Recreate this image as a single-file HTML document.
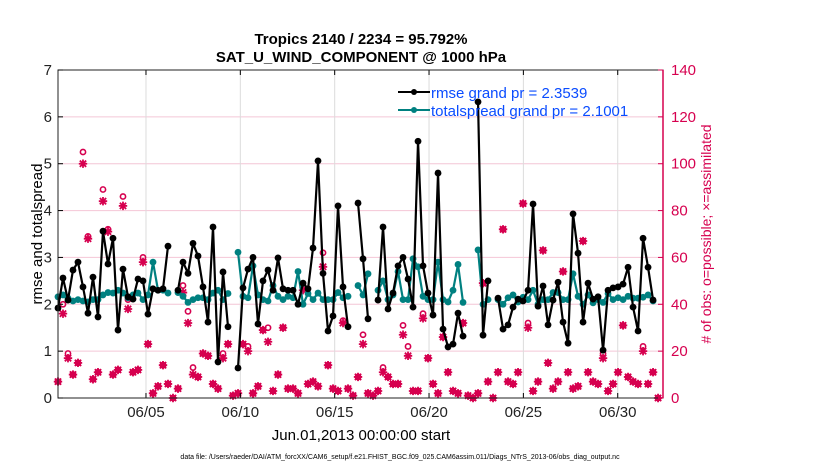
<!DOCTYPE html>
<html><head><meta charset="utf-8"><style>
body{margin:0;background:#fff;}
svg{display:block;font-family:"Liberation Sans",sans-serif;}
</style></head><body>
<svg id="chart" width="830" height="470" viewBox="0 0 830 470">
<rect width="830" height="470" fill="#fff"/>
<g id="grid"></g>
<g id="obs"></g>
<g id="lines"></g>
<g id="axes"></g>
<text x="361" y="44" text-anchor="middle" font-size="15" font-weight="bold">Tropics 2140 / 2234 = 95.792%</text>
<text x="361" y="62" text-anchor="middle" font-size="15" font-weight="bold">SAT_U_WIND_COMPONENT @ 1000 hPa</text>
<text transform="translate(42,234) rotate(-90)" text-anchor="middle" font-size="15">rmse and totalspread</text>
<text transform="translate(711,234) rotate(-90)" text-anchor="middle" font-size="14" fill="#d6004f"># of obs: o=possible; ×=assimilated</text>
<text x="361" y="440" text-anchor="middle" font-size="15">Jun.01,2013 00:00:00 start</text>
<text x="400" y="459" text-anchor="middle" font-size="7">data file: /Users/raeder/DAI/ATM_forcXX/CAM6_setup/f.e21.FHIST_BGC.f09_025.CAM6assim.011/Diags_NTrS_2013-06/obs_diag_output.nc</text>
<g>
<line x1="398" y1="92" x2="430" y2="92" stroke="#000" stroke-width="2"/>
<circle cx="414" cy="92" r="3" fill="#000"/>
<text x="431" y="98" font-size="15" fill="#0a4cff">rmse grand pr = 2.3539</text>
<line x1="398" y1="110" x2="430" y2="110" stroke="#008080" stroke-width="2"/>
<circle cx="414" cy="110" r="3" fill="#008080"/>
<text x="431" y="116" font-size="15" fill="#0a4cff">totalspread grand pr = 2.1001</text>
</g>
</svg>
<script>
const t0 = 0.337, dt = 0.265;
const rmse = [1.92,2.56,2.09,2.73,2.9,2.37,1.81,2.58,1.73,3.56,2.86,3.41,1.45,2.75,2.16,2.11,2.54,2.5,1.79,2.33,2.3,2.33,3.24,null,2.3,2.9,2.66,3.3,3.03,2.37,1.62,3.65,0.77,2.69,1.52,null,0.64,2.35,2.75,3.0,1.58,2.5,2.73,2.3,2.99,2.33,2.3,2.3,2.0,2.45,2.33,3.2,5.06,2.66,1.43,1.75,4.1,2.37,1.52,null,4.16,2.97,1.69,null,2.09,3.65,1.9,2.24,2.82,3.0,2.54,1.94,5.48,2.82,2.24,1.77,4.8,1.47,1.09,1.15,1.81,1.32,null,null,6.32,1.34,2.5,null,2.13,1.47,1.56,1.94,2.11,2.07,2.3,4.14,1.96,2.39,1.56,2.09,2.47,1.62,1.17,3.93,3.09,1.62,2.45,2.11,2.16,1.02,2.3,2.35,2.37,2.43,2.79,1.94,1.43,3.41,2.79,2.09,null];
const spread = [2.16,2.2,2.13,2.07,2.1,2.07,2.05,2.1,2.1,2.2,2.25,2.24,2.3,2.24,2.14,2.2,2.24,2.1,2.2,2.9,2.3,2.3,2.24,null,2.25,2.17,2.04,2.1,2.14,2.14,2.1,2.24,2.3,2.1,2.23,null,3.11,2.17,2.14,2.82,2.2,2.1,2.07,2.4,2.17,2.1,2.17,2.14,2.7,2.0,2.23,2.1,2.24,2.1,2.1,2.1,2.25,2.14,2.17,null,2.4,2.2,2.65,null,2.3,2.5,2.1,2.2,2.7,2.1,2.1,2.97,2.8,2.17,2.1,2.1,2.9,2.1,2.05,2.3,2.85,2.04,null,null,3.16,2.0,2.1,null,2.1,2.0,2.14,2.2,2.05,2.15,2.1,2.3,2.0,2.1,2.1,2.25,2.25,2.1,2.1,2.65,2.17,2.0,2.2,2.03,2.1,2.04,2.23,2.1,2.14,2.1,2.17,2.13,2.13,2.15,2.2,2.07,null];
const nAssim = [7,36,17,10,15,100,68,8,11,84,71,10,12,82,38,11,12,58,23,2,5,14,6,0,4,45,32,10,9,19,18,6,4,17,23,1,2,23,20,2,5,29,24,3,10,30,4,4,2,46,6,7,5,56,14,4,3,32,4,1,9,23,2,1,3,11,9,6,6,27,18,3,3,34,17,6,2,26,11,3,2,32,1,0,2,49,7,0,11,72,7,6,11,83,30,3,7,63,15,4,7,54,11,4,5,67,11,7,6,17,3,6,11,31,9,7,6,20,6,11,0];
const nPoss = [7,40,19,10,15,105,69,8,11,89,72,10,12,86,42,11,12,60,23,2,5,14,6,0,4,48,37,13,9,19,18,6,4,19,23,1,2,23,22,2,5,29,30,3,10,30,4,4,2,48,6,7,5,62,14,4,3,33,4,1,9,27,2,1,3,13,9,6,6,31,22,3,3,36,17,6,2,26,11,3,2,32,1,0,2,49,7,0,11,72,7,6,11,83,32,3,7,63,15,4,7,54,11,4,5,67,11,7,6,19,3,6,11,31,9,7,6,22,6,11,0];
const dayTicks = [5,10,15,20,25,30];
const dayLabels = ["06/05","06/10","06/15","06/20","06/25","06/30"];
const leftTicks = [0,1,2,3,4,5,6,7];
const rightTicks = [0,20,40,60,80,100,120,140];

const L=58,R=663,T=70,B=398;
const xDay = d => 70.5 + (d-1)*18.87;
const yL = v => B - v*(B-T)/7;
const yR = v => B - v*(B-T)/140;
const NS='http://www.w3.org/2000/svg';
function mk(tag, attrs, parent){const e=document.createElementNS(NS,tag);for(const k in attrs)e.setAttribute(k,attrs[k]);parent.appendChild(e);return e;}
const grid=document.getElementById('grid'), axes=document.getElementById('axes'), obs=document.getElementById('obs'), lines=document.getElementById('lines');
const CR='#d6004f';

for(const v of rightTicks){ if(v>0&&v<140){ const g=mk('line',{x1:L,x2:R,y1:yR(v),y2:yR(v),stroke:'#f4c6d6','stroke-width':1},grid);

}}
dayTicks.forEach((d,i)=>{const x=xDay(d);
const g=mk('line',{x1:x,x2:x,y1:T,y2:B,stroke:'#dcdcdc','stroke-width':1},grid);


mk('line',{x1:x,x2:x,y1:B,y2:B-5,stroke:'#000'},axes);
mk('line',{x1:x,x2:x,y1:T,y2:T+5,stroke:'#000'},axes);
const t=mk('text',{x:x,y:B+19,'text-anchor':'middle','font-size':15,fill:'#222'},axes);t.textContent=dayLabels[i];


});
const fr=mk('rect',{x:L,y:T,width:R-L,height:B-T,fill:'none',stroke:'#222','stroke-width':1},axes);


const ra=mk('line',{x1:R,x2:R,y1:T,y2:B,stroke:CR,'stroke-width':1.5},axes);


for(const v of leftTicks){const y=yL(v);
mk('line',{x1:L,x2:L+5,y1:y,y2:y,stroke:'#000'},axes);
const t=mk('text',{x:L-6,y:y+5,'text-anchor':'end','font-size':15,fill:'#222'},axes);t.textContent=v;

}
for(const v of rightTicks){const y=yR(v);
mk('line',{x1:R,x2:R-5,y1:y,y2:y,stroke:CR},axes);
const t=mk('text',{x:R+8,y:y+5,'font-size':15,fill:CR},axes);t.textContent=v;

}

// obs markers
nPoss.forEach((v,i)=>{const x=xDay(t0+i*dt);
const c=mk('circle',{cx:x,cy:yR(v),r:2.6,fill:'none',stroke:CR,'stroke-width':1.6},obs);

});
nAssim.forEach((v,i)=>{const x=xDay(t0+i*dt),y=yR(v),s=4.2;
const p=mk('path',{d:`M${x-s},${y}H${x+s}M${x},${y-s}V${y+s}M${x-s*0.75},${y-s*0.75}L${x+s*0.75},${y+s*0.75}M${x-s*0.75},${y+s*0.75}L${x+s*0.75},${y-s*0.75}`,stroke:CR,'stroke-width':1.8,fill:'none'},obs);


mk('circle',{cx:x,cy:y,r:2.4,fill:CR},obs);});

function series(arr,color,name){
let segs=[],cur=[];
arr.forEach((v,i)=>{if(v==null){if(cur.length)segs.push(cur);cur=[];}else cur.push([xDay(t0+i*dt),yL(v)]);});
if(cur.length)segs.push(cur);
segs.forEach(s=>{const p=mk('polyline',{points:s.map(q=>q.join(',')).join(' '),fill:'none',stroke:color,'stroke-width':2.2,'stroke-linejoin':'round'},lines);

});
arr.forEach((v,i)=>{if(v==null)return;const c=mk('circle',{cx:xDay(t0+i*dt),cy:yL(v),r:3.4,fill:color},lines);

});
}
series(spread,'#008080','totalspread');
series(rmse,'#000','rmse');
</script>
</body></html>
